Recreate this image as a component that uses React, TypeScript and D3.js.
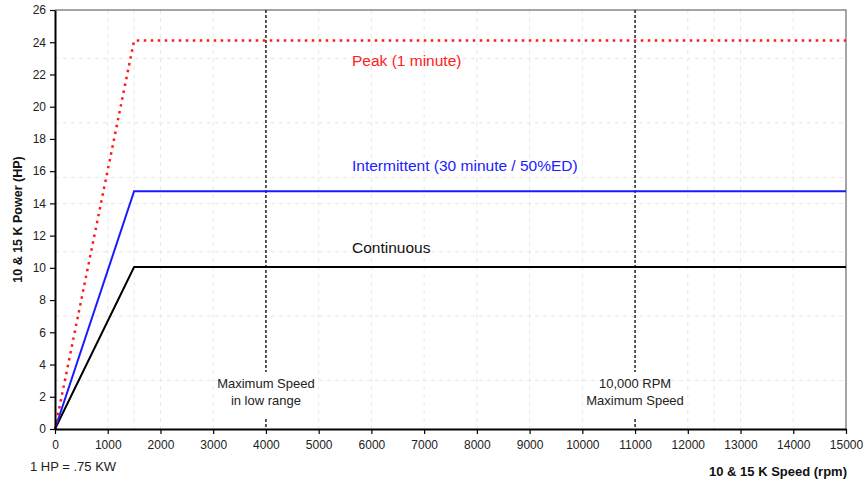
import React, { useEffect, useRef } from "react";
import * as d3 from "d3";

// Speed (rpm) / power (HP) points
const speed = [0, 1500, 15000];
const peak = [0, 24.1, 24.1];
const intermittent = [0, 14.75, 14.75];
const continuous = [0, 10.05, 10.05];

const xTicks = d3.range(0, 15001, 1000);
const yTicks = d3.range(0, 27, 2);
const gridX = [1000, 1500, 2000, 3000, 5000, 6000, 7000, 8000, 9000, 10000, 12000, 12500, 13000, 14000];
const gridY = [3, 7, 11, 14, 15.6, 19, 23];

const markers = [
  { rpm: 4000, lines: ["Maximum Speed", "in low range"] },
  { rpm: 11000, lines: ["10,000 RPM", "Maximum Speed"] },
];

const W = 867;
const H = 484;
const margin = { top: 10, right: 21, bottom: 55, left: 55 };

export default function App() {
  const ref = useRef<SVGSVGElement>(null);

  useEffect(() => {
    const svg = d3.select(ref.current);
    svg.selectAll("*").remove();

    const x = d3.scaleLinear().domain([0, 15000]).range([margin.left, W - margin.right]);
    const y = d3.scaleLinear().domain([0, 26]).range([H - margin.bottom, margin.top]);
    const font = "'Liberation Sans', Arial, sans-serif";

    // faint dashed grid
    const grid = svg.append("g").attr("stroke", "#e8e8e8").attr("stroke-dasharray", "4,4");
    grid.selectAll("line.gx").data(gridX).join("line")
      .attr("x1", (d) => x(d)).attr("x2", (d) => x(d))
      .attr("y1", y(26)).attr("y2", y(0));
    grid.selectAll("line.gy").data(gridY).join("line")
      .attr("y1", (d) => y(d)).attr("y2", (d) => y(d))
      .attr("x1", x(0)).attr("x2", x(15000));

    // frame top/right
    svg.append("path")
      .attr("d", `M${x(0)},${y(26)}H${x(15000)}V${y(0)}`)
      .attr("fill", "none").attr("stroke", "#888").attr("stroke-width", 1.5);

    // marker lines
    markers.forEach((m) => {
      const g = svg.append("g");
      [[y(26), y(0) - 57], [y(0) - 10, y(0)]].forEach(([a, b]) => {
        g.append("line")
          .attr("x1", x(m.rpm)).attr("x2", x(m.rpm))
          .attr("y1", a).attr("y2", b)
          .attr("stroke", "#222").attr("stroke-width", 1.5).attr("stroke-dasharray", "3,2");
      });
      m.lines.forEach((t, i) => {
        g.append("text")
          .attr("x", x(m.rpm)).attr("y", y(0) - 41 + i * 17)
          .attr("text-anchor", "middle")
          .attr("font-family", font).attr("font-size", 13).attr("fill", "#222")
          .text(t);
      });
    });

    // series
    const line = d3.line<number>().x((_, i) => x(speed[i])).y((d) => y(d));
    svg.append("path").attr("d", line(continuous)).attr("fill", "none")
      .attr("stroke", "#000").attr("stroke-width", 2);
    svg.append("path").attr("d", line(intermittent)).attr("fill", "none")
      .attr("stroke", "#1a1aff").attr("stroke-width", 2);
    svg.append("path").attr("d", line(peak)).attr("fill", "none")
      .attr("stroke", "#ff1a1a").attr("stroke-width", 2.5)
      .attr("stroke-dasharray", "2.5,4.5");

    // axes
    const yAxis = svg.append("g")
      .attr("transform", `translate(${x(0)},0)`)
      .call(d3.axisLeft(y).tickValues(yTicks).tickSize(5).tickSizeOuter(0).tickPadding(4));
    const xAxis = svg.append("g")
      .attr("transform", `translate(0,${y(0)})`)
      .call(d3.axisBottom(x).tickValues(xTicks).tickSize(5).tickSizeOuter(0).tickPadding(6).tickFormat(d3.format("d")));
    [xAxis, yAxis].forEach((a) => {
      a.select(".domain").attr("stroke", "#000").attr("stroke-width", 2);
      a.selectAll(".tick line").attr("stroke", "#000").attr("stroke-width", 1.2);
      a.selectAll("text").attr("font-family", font).attr("font-size", 12).attr("fill", "#222");
    });

    // series labels
    const labels = [
      { t: "Peak (1 minute)", v: 22.5, c: "#ff2020" },
      { t: "Intermittent (30 minute / 50%ED)", v: 16.0, c: "#2020ff" },
      { t: "Continuous", v: 10.9, c: "#111" },
    ];
    labels.forEach((l) => {
      svg.append("text")
        .attr("x", 352).attr("y", y(l.v))
        .attr("font-family", font).attr("font-size", 15.5).attr("fill", l.c)
        .text(l.t);
    });

    // titles
    svg.append("text")
      .attr("transform", `translate(22,${(y(0) + y(26)) / 2}) rotate(-90)`)
      .attr("text-anchor", "middle")
      .attr("font-family", font).attr("font-size", 12.5).attr("font-weight", "bold").attr("fill", "#111")
      .text("10 & 15 K Power (HP)");
    svg.append("text")
      .attr("x", 847).attr("y", 476)
      .attr("text-anchor", "end")
      .attr("font-family", font).attr("font-size", 13).attr("font-weight", "bold").attr("fill", "#111")
      .text("10 & 15 K Speed (rpm)");
    svg.append("text")
      .attr("x", 30).attr("y", 471)
      .attr("font-family", font).attr("font-size", 13).attr("fill", "#222")
      .text("1 HP = .75 KW");
  }, []);

  return (
    <svg
      ref={ref}
      width={W}
      height={H}
      style={{ position: "absolute", left: 0, top: 0, background: "#fff" }}
    />
  );
}
